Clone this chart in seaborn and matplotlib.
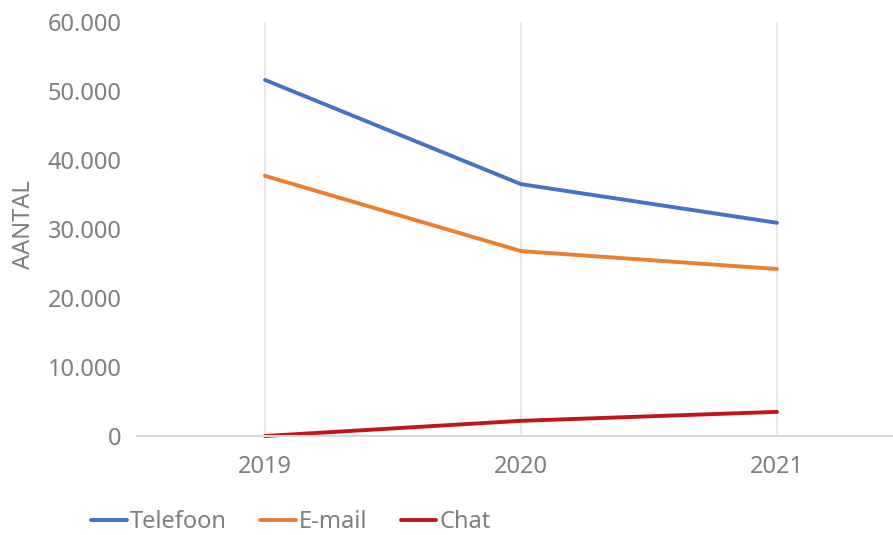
import pandas as pd
import matplotlib
matplotlib.use("Agg")
import matplotlib.pyplot as plt
import seaborn as sns
from matplotlib.ticker import FuncFormatter

# data
years = ["2019", "2020", "2021"]
telefoon = [51600, 36500, 30900]
email = [37700, 26800, 24200]
chat = [0, 2200, 3500]

series = ["Telefoon", "E-mail", "Chat"]
colors = ["#4472C4", "#ED7D31", "#C0161B"]

df = pd.DataFrame({
    "jaar": years * 3,
    "kanaal": [s for s in series for _ in years],
    "aantal": telefoon + email + chat,
})

sns.set_style("white")
plt.rcParams["font.family"] = ["Noto Sans", "DejaVu Sans"]
grey = "#7F7F7F"
fs = 17

fig = plt.figure(figsize=(8.93, 5.35), dpi=100)
ax = fig.add_axes([137 / 893, 99 / 535, 768 / 893, 414 / 535])

sns.lineplot(data=df, x="jaar", y="aantal", hue="kanaal", palette=colors,
             linewidth=2.8, sort=False, ax=ax, legend=False)
for line in ax.lines:
    line.set_solid_capstyle("round")
    line.set_clip_on(False)

ax.set_xlim(-0.5, 2.5)
ax.set_ylim(0, 60000)
ax.set_yticks(range(0, 60001, 10000))
ax.yaxis.set_major_formatter(FuncFormatter(lambda v, p: f"{int(v):,}".replace(",", ".")))

ax.xaxis.grid(True, color="#E3E3E3", linewidth=1.2)
ax.yaxis.grid(False)
for side in ["top", "right", "left"]:
    ax.spines[side].set_visible(False)
ax.spines["bottom"].set_color("#D9D9D9")
ax.spines["bottom"].set_linewidth(1.5)
ax.tick_params(axis="both", length=0, labelsize=fs, labelcolor=grey)
ax.tick_params(axis="y", pad=11)
ax.tick_params(axis="x", pad=14)

ax.set_xlabel("")
ax.set_ylabel("AANTAL", fontsize=fs, color=grey)
ax.yaxis.set_label_coords((36 - 137) / 768, (436 - 225) / 414)

handles = [plt.Line2D([], [], color=c, linewidth=2.8) for c in colors]
fig.legend(handles, series, loc="center left", bbox_to_anchor=(70 / 893, 1 - 522 / 535),
           ncol=3, frameon=False, fontsize=fs, labelcolor=grey,
           handlelength=1.5, handletextpad=0.15, columnspacing=1.4)

fig.savefig("out.png", dpi=100)
